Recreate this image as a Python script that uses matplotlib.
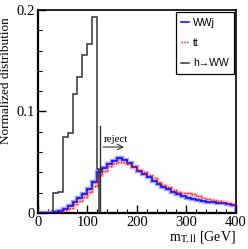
import matplotlib

matplotlib.use("Agg")

import matplotlib.pyplot as plt
import numpy as np
from matplotlib.ticker import MultipleLocator

plt.rcParams["mathtext.fontset"] = "stix"
SERIF = ["Liberation Serif", "DejaVu Serif"]
SANS = ["Liberation Sans", "DejaVu Sans"]

# background histograms, 10 GeV bins from 0 to 400
bg_edges = np.arange(0, 410, 10)
wwj = [0, 0, 0, 0.0005, 0.0015, 0.004, 0.007, 0.011, 0.015, 0.019,
       0.024, 0.031, 0.040, 0.044, 0.048, 0.051, 0.054, 0.052, 0.049, 0.045,
       0.041, 0.038, 0.035, 0.032, 0.029, 0.026, 0.024, 0.021, 0.019, 0.017,
       0.015, 0.0135, 0.013, 0.012, 0.011, 0.011, 0.010, 0.0095, 0.009, 0.008]
ttbar = [0, 0, 0, 0.0003, 0.001, 0.003, 0.005, 0.009, 0.012, 0.016,
         0.021, 0.027, 0.037, 0.041, 0.046, 0.049, 0.050, 0.050, 0.048, 0.045,
         0.042, 0.040, 0.037, 0.034, 0.031, 0.028, 0.026, 0.023, 0.021, 0.020,
         0.020, 0.019, 0.017, 0.015, 0.014, 0.013, 0.012, 0.011, 0.010, 0.009]

# signal, ends at the kinematic edge
h_edges = [30, 40, 50, 60, 70, 80, 90, 100, 110, 120, 124]
hww = [0.0194, 0.021, 0.0746, 0.079, 0.117, 0.134, 0.156, 0.166, 0.193, 0.043]

cut = 126
cut_top = 0.086

fig = plt.figure(figsize=(2.48, 2.49), dpi=100)
ax = fig.add_axes([0.153, 0.1446, 0.797, 0.8154])

ax.stairs(wwj, bg_edges, color="#a0a0ff", lw=3.2, zorder=2)
ax.stairs(wwj, bg_edges, color="#0000ff", lw=1.1, zorder=3, label="WWj")
ax.stairs(ttbar, bg_edges, color="#ffc0c0", lw=2.2, zorder=2)
ax.stairs(ttbar, bg_edges, color="#ff0000", lw=1.0, ls=(0, (1, 1)), zorder=4, label="tt")
ax.stairs(hww, h_edges, color="#333333", lw=1.1, zorder=5, label="h\u2192WW")

# cut line and arrow
ax.plot([cut, cut], [0, cut_top], color="#333333", lw=1.0, zorder=5)
ax.annotate("", xy=(180, 0.065), xytext=(cut, 0.065),
            arrowprops=dict(arrowstyle="->", color="#333333", lw=0.8))
ax.text(158, 0.068, "reject", family=SERIF, fontsize=8, ha="center", va="bottom")

ax.set_xlim(0, 400)
ax.set_ylim(0, 0.2)
ax.xaxis.set_major_locator(MultipleLocator(100))
ax.xaxis.set_minor_locator(MultipleLocator(20))
ax.yaxis.set_major_locator(MultipleLocator(0.1))
ax.yaxis.set_minor_locator(MultipleLocator(0.02))
ax.set_yticks([0, 0.1, 0.2], ["0", "0.1", "0.2"])
ax.tick_params(which="both", direction="in", top=False, right=False)
ax.tick_params(which="major", length=6, width=1.0, labelsize=10.5, pad=2)
ax.tick_params(which="minor", length=3, width=0.8)
for lab in ax.get_xticklabels() + ax.get_yticklabels():
    lab.set_family(SERIF)
for side in ["left", "bottom"]:
    ax.spines[side].set_linewidth(1.6)
for side in ["top", "right"]:
    ax.spines[side].set_linewidth(1.2)

ax.set_ylabel("Normalized distribution", family=SERIF, fontsize=9.5, ha="right")
ax.yaxis.set_label_coords(-0.13, 0.965)
ax.set_xlabel(r"m$_{\rm T,ll}$ [GeV]", family=SERIF, fontsize=10, ha="right")
ax.xaxis.set_label_coords(1.0, -0.08)

leg = ax.legend(loc="upper right", bbox_to_anchor=(0.99, 0.988), prop={"family": SANS, "size": 7.5},
                handlelength=0.7, handletextpad=0.4, labelspacing=1.0, borderpad=0.5,
                borderaxespad=0, fancybox=False, framealpha=1, edgecolor="black")
leg.get_frame().set_linewidth(0.9)

fig.savefig("out.png", dpi=100)
